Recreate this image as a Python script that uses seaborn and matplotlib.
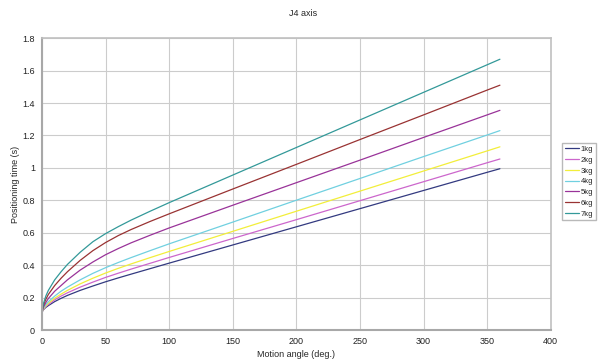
import pandas as pd
import matplotlib.pyplot as plt
import seaborn as sns

# --- data ---
angle = [0, 1, 3, 5, 10, 15, 20, 30, 40, 50, 60, 70, 85, 100, 150, 200, 250, 300, 350, 360]

t_1kg = [0.11, 0.125, 0.14, 0.151, 0.176, 0.196, 0.214, 0.245, 0.272, 0.298, 0.322, 0.345, 0.379,
         0.413, 0.525, 0.637, 0.749, 0.861, 0.973, 0.995]
t_2kg = [0.11, 0.127, 0.145, 0.158, 0.187, 0.21, 0.23, 0.265, 0.296, 0.325, 0.351, 0.376, 0.412,
         0.448, 0.565, 0.681, 0.798, 0.915, 1.032, 1.055]
t_3kg = [0.11, 0.13, 0.15, 0.165, 0.197, 0.222, 0.245, 0.285, 0.32, 0.352, 0.381, 0.408, 0.447,
         0.485, 0.609, 0.733, 0.857, 0.981, 1.105, 1.13]
t_4kg = [0.11, 0.133, 0.157, 0.175, 0.21, 0.24, 0.265, 0.31, 0.35, 0.385, 0.417, 0.447, 0.49,
         0.532, 0.666, 0.801, 0.935, 1.07, 1.203, 1.23]
t_5kg = [0.11, 0.14, 0.17, 0.195, 0.24, 0.275, 0.31, 0.37, 0.42, 0.465, 0.503, 0.538, 0.585,
         0.63, 0.77, 0.909, 1.048, 1.188, 1.327, 1.355]
t_6kg = [0.11, 0.15, 0.19, 0.22, 0.275, 0.32, 0.36, 0.43, 0.49, 0.54, 0.583, 0.62, 0.67,
         0.717, 0.87, 1.022, 1.175, 1.327, 1.48, 1.51]
t_7kg = [0.11, 0.16, 0.21, 0.245, 0.31, 0.36, 0.405, 0.48, 0.545, 0.595, 0.638, 0.678, 0.733,
         0.786, 0.956, 1.126, 1.296, 1.466, 1.636, 1.67]

loads = ['1kg', '2kg', '3kg', '4kg', '5kg', '6kg', '7kg']
series = [t_1kg, t_2kg, t_3kg, t_4kg, t_5kg, t_6kg, t_7kg]
colors = ['#333a80', '#cc66cc', '#f2ee3a', '#70d0e0', '#993399', '#993333', '#339999']

x_ticks = [0, 50, 100, 150, 200, 250, 300, 350, 400]
y_ticks = [0, 0.2, 0.4, 0.6, 0.8, 1, 1.2, 1.4, 1.6, 1.8]
y_labels = ['0', '0.2', '0.4', '0.6', '0.8', '1', '1.2', '1.4', '1.6', '1.8']

# long format for seaborn
rows = []
for load, vals in zip(loads, series):
    for a, t in zip(angle, vals):
        rows.append({'angle': a, 'time': t, 'load': load})
df = pd.DataFrame(rows)

sns.set_style("white")
plt.rcParams['font.family'] = ['Liberation Sans', 'DejaVu Sans']

fig = plt.figure(figsize=(6, 3.6), dpi=100)
ax = fig.add_axes([0.07, 0.083, 0.848, 0.811])

sns.lineplot(data=df, x='angle', y='time', hue='load', palette=colors,
             linewidth=0.9, ax=ax, legend=False)

ax.set_xlim(0, 400)
ax.set_ylim(0, 1.8)
ax.set_xticks(x_ticks)
ax.set_yticks(y_ticks)
ax.set_yticklabels(y_labels)
ax.grid(True, color='#cccccc', linewidth=0.8)
ax.set_axisbelow(True)

for side in ['top', 'right']:
    ax.spines[side].set_color('#c0c0c0')
    ax.spines[side].set_linewidth(1.2)
for side in ['left', 'bottom']:
    ax.spines[side].set_color('#a8a8a8')
    ax.spines[side].set_linewidth(1.5)

ax.tick_params(axis='both', labelsize=6.5, colors='#222222', length=2,
               width=0.6, color='#a8a8a8', pad=3)

ax.set_xlabel("Motion angle (deg.)", fontsize=6.5, labelpad=3)
ax.set_ylabel("Positioning time (s)", fontsize=6.5, labelpad=2)
fig.text(0.505, 0.962, "J4 axis", ha='center', va='center', fontsize=6.5)

handles = [plt.Line2D([], [], color=c, linewidth=0.9) for c in colors]
fig.legend(handles, loads, loc='upper left', bbox_to_anchor=(0.937, 0.603),
           fontsize=5.5, frameon=True, fancybox=False, edgecolor='#a8a8a8',
           handlelength=1.9, handletextpad=0.2, labelspacing=0.45,
           borderpad=0.35, borderaxespad=0)

fig.savefig("out.png", dpi=100)
